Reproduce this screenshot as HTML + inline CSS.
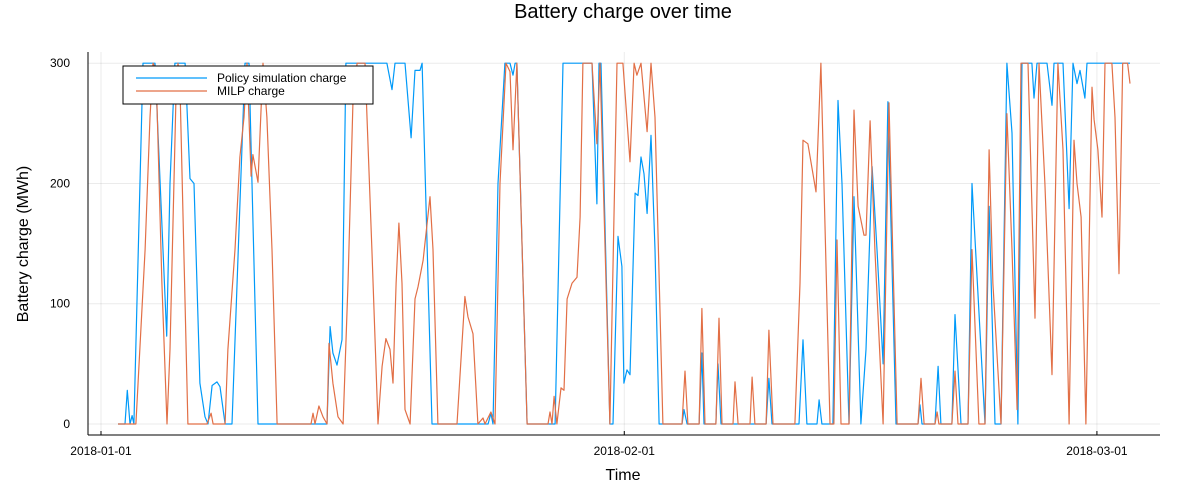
<!DOCTYPE html>
<html><head><meta charset="utf-8"><style>
body{margin:0;background:#fff}
svg{display:block;font-family:"Liberation Sans","DejaVu Sans",sans-serif}
</style></head><body>
<svg id="chart" width="1200" height="500">
<rect width="1200" height="500" fill="#fff"/>
<text x="623" y="18" font-size="20" text-anchor="middle" fill="#000">Battery charge over time</text>
<text x="623" y="480" font-size="16" text-anchor="middle">Time</text>
<text transform="translate(28,244) rotate(-90)" font-size="16" text-anchor="middle">Battery charge (MWh)</text>
<g id="grid"></g>
<g id="ticks"></g>
<g id="series"></g>
<line x1="88" y1="52" x2="88" y2="435" stroke="#000" stroke-width="1"/>
<line x1="88" y1="435" x2="1160" y2="435" stroke="#000" stroke-width="1"/>
<g>
<rect x="123" y="66" width="250" height="38" fill="#fff" stroke="#000" stroke-width="1"/>
<line x1="136" y1="78" x2="207" y2="78" stroke="#009af9" stroke-width="1.2"/>
<text x="217" y="82" font-size="12">Policy simulation charge</text>
<line x1="136" y1="91" x2="207" y2="91" stroke="#e26f46" stroke-width="1.2"/>
<text x="217" y="95" font-size="12">MILP charge</text>
</g>
</svg>
<script>
const yTicks=[0,100,200,300];
const xTickDays=[0,31,59];
const xTickLabels=["2018-01-01","2018-02-01","2018-03-01"];
const policyDays=[1.01,1.42,1.56,1.72,1.84,1.95,2.49,3.20,3.89,4.09,4.38,4.98,5.27,5.51,5.86,6.16,6.34,6.58,6.87,7.05,7.35,7.76,8.53,8.77,9.30,12.38,13.39,13.57,13.74,13.98,14.28,14.51,16.94,17.24,17.42,18.01,18.37,18.60,18.90,19.02,19.61,22.93,23.10,23.22,23.52,23.93,24.23,24.41,24.53,24.64,25.24,26.90,27.37,29.09,29.38,29.50,29.62,30.15,30.33,30.63,30.86,30.98,31.16,31.34,31.64,31.81,31.99,32.17,32.35,32.58,32.82,33.06,34.42,34.54,34.72,35.43,35.60,35.72,36.43,36.55,36.73,39.40,39.57,39.75,41.35,41.59,41.82,42.42,42.54,42.71,43.36,43.66,43.90,44.31,44.61,45.02,45.32,45.68,45.97,46.33,46.62,47.10,48.40,48.52,48.64,49.41,49.59,49.76,50.41,50.59,50.95,51.36,51.60,52.37,52.61,52.96,53.32,53.67,53.97,54.32,54.56,55.15,55.27,55.45,56.04,56.34,56.46,56.99,57.35,57.58,57.82,58.00,58.29,58.41,60.96];
const policyValues=[0,0,28,0,7,0,300,300,73,200,300,300,204,200,34,6,0,32,35,31,0,0,300,300,0,0,0,81,59,49,70,300,300,278,300,300,238,294,294,300,0,0,9,0,200,300,300,290,300,300,0,0,300,300,183,300,300,0,0,156,131,34,45,41,192,190,222,208,175,240,145,0,0,12,0,0,59,0,0,50,0,0,38,0,0,70,0,0,20,0,0,269,200,0,189,0,62,214,145,50,268,0,0,16,0,0,48,0,0,91,0,0,200,0,181,0,0,300,242,0,300,300,271,300,300,265,300,300,179,300,283,294,271,300,300];
const milpDays=[1.01,2.07,2.61,2.90,3.08,3.26,3.61,3.91,4.09,4.44,4.56,4.68,5.15,6.28,6.52,6.64,7.35,7.52,7.94,8.23,8.47,8.65,8.89,9.00,9.30,9.60,9.83,10.13,10.43,12.44,12.56,12.68,12.91,13.15,13.39,13.51,13.74,14.04,14.34,14.63,14.93,15.17,15.64,16.05,16.41,16.65,16.88,17.12,17.30,17.48,17.65,17.83,18.01,18.31,18.60,18.78,19.08,19.49,19.67,19.96,21.09,21.56,21.74,22.04,22.33,22.63,22.75,23.10,23.34,23.64,23.99,24.23,24.41,24.64,25.24,26.48,26.60,26.72,26.84,27.01,27.25,27.43,27.61,27.90,28.20,28.38,28.55,29.09,29.38,29.56,30.15,30.57,30.92,31.34,31.58,31.75,31.99,32.35,32.58,32.82,33.29,34.42,34.60,34.77,35.43,35.60,35.78,36.43,36.61,36.79,37.44,37.56,37.74,38.45,38.57,38.74,39.40,39.57,39.81,41.11,41.41,41.59,41.88,42.36,42.65,43.19,43.42,43.60,43.84,44.31,44.61,44.85,45.20,45.32,45.56,45.85,46.33,46.68,47.16,48.40,48.58,48.76,49.41,49.53,49.64,50.41,50.59,50.77,51.36,51.60,52.01,52.37,52.61,52.84,53.32,53.67,53.97,54.27,54.50,54.92,55.33,55.57,55.92,56.34,56.69,56.99,57.35,57.64,57.82,58.06,58.35,58.71,58.83,59.06,59.30,59.48,59.89,60.07,60.31,60.53,60.82,60.96];
const milpValues=[0,0,145,255,300,295,117,0,62,269,300,280,0,0,9,0,0,62,145,222,255,300,206,224,201,300,255,145,0,0,9,0,15,6,0,67,34,6,0,117,269,300,300,145,0,48,71,62,34,117,167,117,12,0,104,114,136,189,145,0,0,106,89,75,0,5,0,10,0,200,300,293,228,300,0,0,10,0,23,0,30,28,104,117,122,172,300,300,233,300,0,300,300,218,300,290,300,243,300,255,0,0,44,0,0,96,0,0,88,0,0,35,0,0,39,0,0,78,0,0,117,236,233,193,300,0,0,153,0,0,261,181,157,157,252,145,0,267,0,0,38,0,0,10,0,0,44,0,0,145,0,0,228,117,0,258,145,12,300,300,88,300,200,41,300,228,0,236,200,172,0,280,253,228,172,300,300,255,125,300,300,283];

const NS="http://www.w3.org/2000/svg";
const X0=101, PXDAY=16.88, Y0=424, PXUNIT=1.2027;
function xs(d){return X0+d*PXDAY;}
function ys(v){return Y0-v*PXUNIT;}
const grid=document.getElementById('grid'), ticks=document.getElementById('ticks'), series=document.getElementById('series');
yTicks.forEach(v=>{
  const g=document.createElementNS(NS,'line');
  g.setAttribute('x1',88);g.setAttribute('x2',1160);g.setAttribute('y1',ys(v));g.setAttribute('y2',ys(v));
  g.setAttribute('stroke','#000');g.setAttribute('stroke-opacity','0.08');
  
  
  grid.appendChild(g);
  const t=document.createElementNS(NS,'text');
  t.setAttribute('x',70);t.setAttribute('y',ys(v)+4);t.setAttribute('font-size','12');t.setAttribute('text-anchor','end');
  t.textContent=v;
  
  
  ticks.appendChild(t);
});
xTickDays.forEach((d,i)=>{
  const g=document.createElementNS(NS,'line');
  g.setAttribute('x1',xs(d));g.setAttribute('x2',xs(d));g.setAttribute('y1',52);g.setAttribute('y2',435);
  g.setAttribute('stroke','#000');g.setAttribute('stroke-opacity','0.08');
  
  
  grid.appendChild(g);
  const tk=document.createElementNS(NS,'line');
  tk.setAttribute('x1',xs(d));tk.setAttribute('x2',xs(d));tk.setAttribute('y1',431);tk.setAttribute('y2',435);tk.setAttribute('stroke','#000');
  
  
  ticks.appendChild(tk);
  const t=document.createElementNS(NS,'text');
  t.setAttribute('x',xs(d));t.setAttribute('y',455);t.setAttribute('font-size','12');t.setAttribute('text-anchor','middle');
  t.textContent=xTickLabels[i];
  
  
  ticks.appendChild(t);
});
function drawLine(days,vals,color,name){
  const p=document.createElementNS(NS,'polyline');
  p.setAttribute('points',days.map((d,i)=>xs(d).toFixed(1)+','+ys(vals[i]).toFixed(1)).join(' '));
  p.setAttribute('fill','none');p.setAttribute('stroke',color);p.setAttribute('stroke-width','1.2');p.setAttribute('stroke-linejoin','round');
  
  
  series.appendChild(p);
}
drawLine(policyDays,policyValues,'#009af9','policy-simulation-line');
drawLine(milpDays,milpValues,'#e26f46','milp-charge-line');
</script>
</body></html>
